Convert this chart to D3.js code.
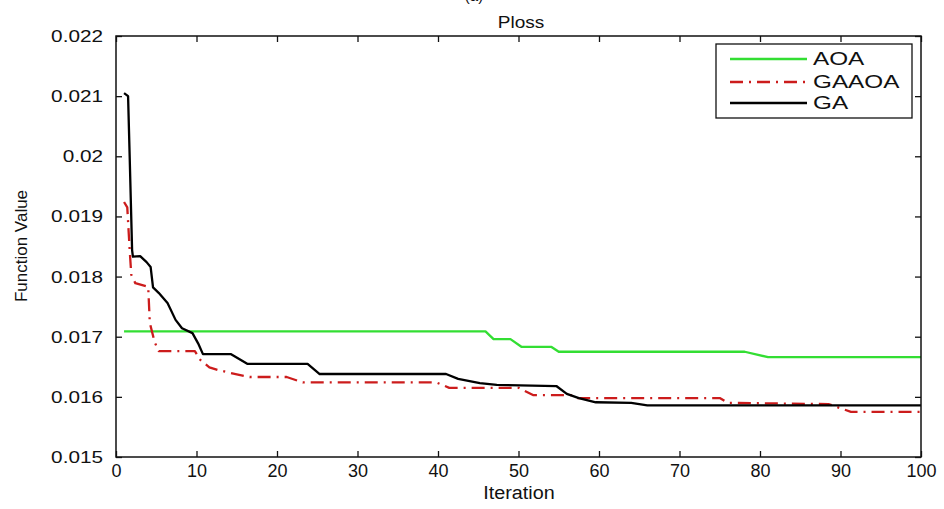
<!DOCTYPE html>
<html>
<head>
<meta charset="utf-8">
<script src="https://cdn.jsdelivr.net/npm/d3@7"></script>
<style>
  html, body { margin: 0; padding: 0; background: #fff; }
  svg { display: block; }
  text { font-family: "Liberation Sans", Arial, sans-serif; fill: #111; }
</style>
</head>
<body>
<svg id="chart" width="944" height="509"></svg>
<script>
// Convergence of the power-loss objective for three optimisers
const xTicks = [0, 10, 20, 30, 40, 50, 60, 70, 80, 90, 100];
const xTickLabels = ["0", "10", "20", "30", "40", "50", "60", "70", "80", "90", "100"];
const yTicks = [0.015, 0.016, 0.017, 0.018, 0.019, 0.020, 0.021, 0.022];
const yTickLabels = ["0.015", "0.016", "0.017", "0.018", "0.019", "0.02", "0.021", "0.022"];

const seriesNames = ["AOA", "GAAOA", "GA"];

const aoaIter = [1, 45.9, 46.9, 49.0, 50.4, 54.1, 55.0, 78.1, 81.0, 100];
const aoaValue = [0.01709, 0.01709, 0.01696, 0.01696, 0.01683, 0.01683, 0.01675, 0.01675, 0.01666, 0.01666];

const gaaoaIter = [1, 1.4, 1.7, 1.9, 2.4, 4.0, 4.2, 4.8, 5.3, 9.8, 10.5, 11.6, 12.6, 13.8, 16.6, 21.2, 23.2,
  39.8, 41.4, 50, 51.8, 56.5, 57.2, 75, 76, 88.5, 91.3, 100];
const gaaoaValue = [0.01924, 0.01915, 0.01844, 0.01803, 0.01789, 0.01783, 0.01723, 0.01691, 0.01676, 0.01676,
  0.01661, 0.01649, 0.01645, 0.01641, 0.01633, 0.01633, 0.01624, 0.01624, 0.01615, 0.01615, 0.01603, 0.01603,
  0.01598, 0.01598, 0.01590, 0.01588, 0.01575, 0.01575];

const gaIter = [1, 1.5, 1.7, 2, 2.1, 3.0, 3.8, 4.3, 4.6, 5.3, 6.4, 7.4, 8.2, 9.5, 10.2, 10.8, 14.3, 16.3,
  23.8, 25.3, 41, 42.5, 45.2, 47.3, 54.7, 56, 57.5, 59.6, 64, 66, 100];
const gaValue = [0.02105, 0.02100, 0.01999, 0.01844, 0.01833, 0.01834, 0.01824, 0.01816, 0.01782, 0.01773,
  0.01756, 0.01728, 0.01714, 0.01706, 0.01689, 0.01671, 0.01671, 0.01655, 0.01655, 0.01638, 0.01638, 0.01630,
  0.01623, 0.01620, 0.01618, 0.01605, 0.01598, 0.01591, 0.01590, 0.01586, 0.01586];

const svg = d3.select("#chart");
const plotLeft = 116, plotRight = 921, plotTop = 36, plotBottom = 457;

const x = d3.scaleLinear().domain([0, 100]).range([plotLeft, plotRight]);
const y = d3.scaleLinear().domain([0.015, 0.022]).range([plotBottom, plotTop]);

// widen a text horizontally by a factor, keeping it as real text
function stretch(sel, factor) {
  sel.each(function () {
    const w = this.getComputedTextLength();
    d3.select(this).attr("textLength", w * factor).attr("lengthAdjust", "spacingAndGlyphs");
  });
}

const series = [
  { name: seriesNames[0], iter: aoaIter, value: aoaValue, color: "#33de33", dash: null },
  { name: seriesNames[1], iter: gaaoaIter, value: gaaoaValue, color: "#cc1c1c", dash: "13,6,2,6" },
  { name: seriesNames[2], iter: gaIter, value: gaValue, color: "#000000", dash: null }
];

// plot background
svg.append("rect").attr("x", plotLeft).attr("y", plotTop)
  .attr("width", plotRight - plotLeft).attr("height", plotBottom - plotTop).attr("fill", "#fff");

// curves
const line = d3.line().x(d => x(d[0])).y(d => y(d[1]));
series.forEach(s => {
  const pts = s.iter.map((it, i) => [it, s.value[i]]);
  svg.append("path")
    .datum(pts)
    .attr("d", line)
    .attr("fill", "none")
    .attr("stroke", s.color)
    .attr("stroke-width", 2.3)
    .attr("stroke-dasharray", s.dash)
    .attr("stroke-linejoin", "round");
});

// axes with inward ticks on all four sides
const gx = svg.append("g").attr("transform", `translate(0,${plotBottom})`)
  .call(d3.axisBottom(x).tickValues(xTicks).tickFormat((d, i) => xTickLabels[i])
    .tickSizeInner(-6).tickSizeOuter(0).tickPadding(7));
const gy = svg.append("g").attr("transform", `translate(${plotLeft},0)`)
  .call(d3.axisLeft(y).tickValues(yTicks).tickFormat((d, i) => yTickLabels[i])
    .tickSizeInner(-6).tickSizeOuter(0).tickPadding(13));
const gt = svg.append("g").attr("transform", `translate(0,${plotTop})`)
  .call(d3.axisTop(x).tickValues(xTicks).tickFormat("").tickSizeInner(-6).tickSizeOuter(0));
const gr = svg.append("g").attr("transform", `translate(${plotRight},0)`)
  .call(d3.axisRight(y).tickValues(yTicks).tickFormat("").tickSizeInner(-6).tickSizeOuter(0));

[gx, gy, gt, gr].forEach(g => {
  g.select(".domain").remove();
  g.selectAll(".tick line").attr("stroke", "#111").attr("stroke-width", 1.3);
  g.selectAll("text").attr("fill", "#111")
    .style("font-family", "'Liberation Sans', Arial, sans-serif");
});
gx.selectAll("text").style("font-size", "18px");
gy.selectAll("text").style("font-size", "17px");
stretch(gy.selectAll("text"), 1.22);

// frame
svg.append("rect").attr("x", plotLeft).attr("y", plotTop)
  .attr("width", plotRight - plotLeft).attr("height", plotBottom - plotTop)
  .attr("fill", "none").attr("stroke", "#111").attr("stroke-width", 1.5);

// titles
svg.append("text").attr("x", 474).attr("y", 0.5).attr("text-anchor", "middle")
  .style("font-size", "15px").text("(a)");
svg.append("text").attr("x", 521).attr("y", 28).attr("text-anchor", "middle")
  .style("font-size", "17px").text("Ploss").call(stretch, 1.12);
svg.append("text").attr("x", 519).attr("y", 499).attr("text-anchor", "middle")
  .style("font-size", "18px").text("Iteration").call(stretch, 1.1);
svg.append("text").attr("transform", "translate(27,246) rotate(-90)").attr("text-anchor", "middle")
  .style("font-size", "17px").text("Function Value");

// legend
const lg = svg.append("g");
lg.append("rect").attr("x", 716).attr("y", 44).attr("width", 196).attr("height", 74)
  .attr("fill", "#fff").attr("stroke", "#111").attr("stroke-width", 1.3);
const rowY = [59, 82, 103];
series.forEach((s, i) => {
  lg.append("line").attr("x1", 730).attr("x2", 807).attr("y1", rowY[i]).attr("y2", rowY[i])
    .attr("stroke", s.color).attr("stroke-width", 2.3).attr("stroke-dasharray", s.dash);
  lg.append("text").attr("x", 813).attr("y", rowY[i]).attr("dy", "0.36em")
    .style("font-size", "18px").text(s.name).call(stretch, 1.35);
});
</script>
</body>
</html>
